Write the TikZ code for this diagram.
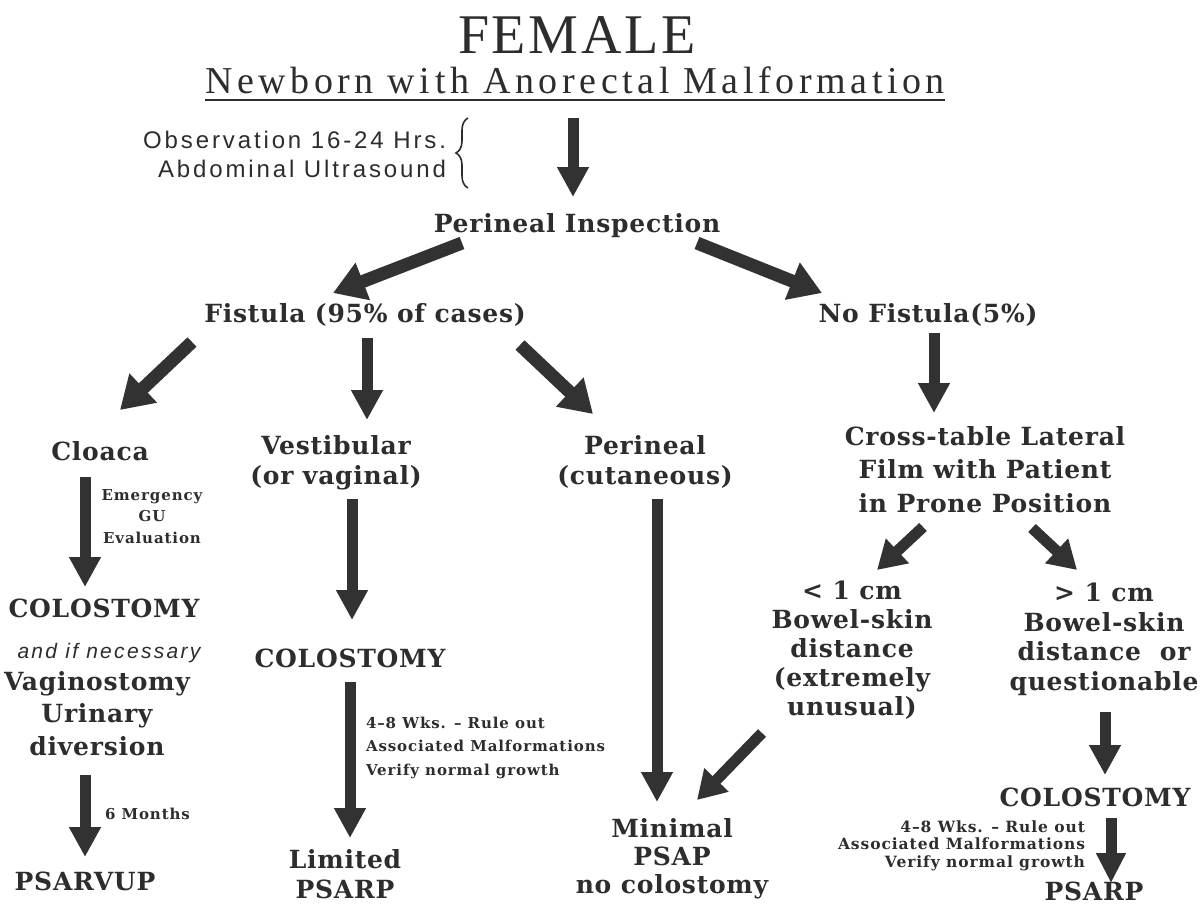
\documentclass[tikz,border=0pt]{standalone}
\usepackage{fontspec}
\usetikzlibrary{arrows.meta,decorations.pathreplacing,calc}
\newfontfamily\ttlfont[LetterSpace=5]{Liberation Serif}
\newfontfamily\subfont[LetterSpace=12]{Liberation Serif}
\newfontfamily\dgmfont[LetterSpace=3]{DejaVu Serif}
\newfontfamily\nfont[LetterSpace=6]{DejaVu Serif}
\newfontfamily\sfnote[LetterSpace=12]{Liberation Sans}
\newfontfamily\sfital[LetterSpace=11]{Liberation Sans}
\definecolor{ink}{RGB}{45,45,45}
\definecolor{arrowc}{RGB}{50,50,50}
\newcommand\fs[2]{\fontsize{#1}{#2}\selectfont}
\begin{document}
\begin{tikzpicture}[x=1pt,y=-1pt,
  every node/.style={inner sep=0pt, outer sep=0pt, text=ink},
  lbl/.style={font=\dgmfont\bfseries\fs{25}{30}, anchor=base, align=center},
  note/.style={font=\nfont\bfseries\fs{15}{22}, anchor=base},
  arr/.style={draw=arrowc, line width=11pt, -{Triangle[width=30pt,length=30pt]}},
  bigarr/.style={draw=arrowc, line width=13pt, -{Triangle[width=38pt,length=32pt]}},
  midarr/.style={draw=arrowc, line width=11pt, -{Triangle[width=32pt,length=28pt]}},
]
\fill[white] (0,0) rectangle (1204,911);
\useasboundingbox (0,0) rectangle (1204,911);

% titles
\node[anchor=base, font=\ttlfont\fs{56}{60}] (title) at (577,53) {FEMALE};
\node[anchor=base, font=\subfont\fs{38}{42}] (sub) at (575,93) {Newborn with Anorectal Malformation};
\draw[ink, line width=2.5pt] ($(sub.base west)+(0,7)$) -- ($(sub.base east)+(0,7)$);

\node[anchor=base east, align=right, font=\sfnote\fs{24}{29}] (obs) at (446,177) {Observation 16-24 Hrs.\\Abdominal Ultrasound};
\draw[decorate, decoration={brace, amplitude=12pt}, line width=1.6pt, ink] (468,188) -- (468,118);

\node[lbl] (insp) at (577,232) {Perineal Inspection};
\node[lbl] (fist) at (365,322) {Fistula (95\% of cases)};
\node[lbl] (nofist) at (928,322) {No Fistula(5\%)};

\node[lbl] (cloaca) at (100,460) {Cloaca};
\node[lbl] (vest) at (336,484) {Vestibular\\(or vaginal)};
\node[lbl] (perin) at (645,484) {Perineal\\(cutaneous)};
\node[lbl, font=\dgmfont\bfseries\fs{25}{33.5}] (cross) at (985,512) {Cross-table Lateral\\Film with Patient\\in Prone Position};

\node[note, align=center, font=\nfont\bfseries\fs{15}{21.5}] (emerg) at (152,543) {Emergency\\GU\\Evaluation};
\node[lbl] (colL) at (104,617) {COLOSTOMY};
\node[anchor=base, font=\sfital\itshape\fs{21}{22}] (ifnec) at (109,658) {and if necessary};
\node[lbl, font=\dgmfont\bfseries\fs{25}{32.5}] (vagin) at (97,755) {Vaginostomy\\Urinary\\diversion};
\node[note, anchor=base west] (sixm) at (105,819) {6 Months};
\node[lbl] (psarvup) at (85,890) {PSARVUP};

\node[lbl] (colM) at (350,667) {COLOSTOMY};
\node[note, anchor=base west, align=left, font=\nfont\bfseries\fs{15}{23.5}] (wksM) at (366,775) {4–8 Wks. – Rule out\\Associated Malformations\\Verify normal growth};
\node[lbl] (limited) at (345,898) {Limited\\PSARP};

\node[lbl, font=\dgmfont\bfseries\fs{25}{28}] (minimal) at (672,893) {Minimal\\PSAP\\no colostomy};

\node[lbl, font=\dgmfont\bfseries\fs{25}{29}] (lt) at (852,715) {< 1 cm\\Bowel-skin\\distance\\(extremely\\unusual)};
\node[lbl, font=\dgmfont\bfseries\fs{25}{29.5}] (gt) at (1104,690) {> 1 cm\\Bowel-skin\\distance~~or\\questionable};
\node[lbl] (colR) at (1095,806) {COLOSTOMY};
\node[note, anchor=base east, align=right, font=\nfont\bfseries\fs{15.5}{17.5}] (wksR) at (1085,867) {4–8 Wks. – Rule out\\Associated Malformations\\Verify normal growth};
\node[lbl] (psarpR) at (1094,900) {PSARP};

% arrow end points
\coordinate (a1s) at (573,118);  \coordinate (a1e) at (573,197);
\coordinate (a2s) at (462,243);  \coordinate (a2e) at (333,293);
\coordinate (a3s) at (697,243);  \coordinate (a3e) at (822,293);
\coordinate (a4s) at (192,342);  \coordinate (a4e) at (120,410);
\coordinate (a5s) at (367,338);  \coordinate (a5e) at (367,420);
\coordinate (a6s) at (520,345);  \coordinate (a6e) at (593,414);
\coordinate (a7s) at (934,333);  \coordinate (a7e) at (934,413);
\coordinate (a8s) at (85,477);   \coordinate (a8e) at (85,587);
\coordinate (a9s) at (352,499);  \coordinate (a9e) at (352,620);
\coordinate (a10s) at (657,499); \coordinate (a10e) at (657,802);
\coordinate (a11s) at (923,527); \coordinate (a11e) at (877,570);
\coordinate (a12s) at (1032,528);\coordinate (a12e) at (1077,570);
\coordinate (a13s) at (85,775);  \coordinate (a13e) at (85,857);
\coordinate (a14s) at (350,682); \coordinate (a14e) at (350,838);
\coordinate (a15s) at (762,733); \coordinate (a15e) at (697,800);
\coordinate (a16s) at (1105,712);\coordinate (a16e) at (1105,775);
\coordinate (a17s) at (1111,818);\coordinate (a17e) at (1111,883);

\draw[arr] (a1s) -- (a1e);
\draw[bigarr] (a2s) -- (a2e);
\draw[bigarr] (a3s) -- (a3e);
\draw[bigarr] (a4s) -- (a4e);
\draw[arr] (a5s) -- (a5e);
\draw[bigarr] (a6s) -- (a6e);
\draw[arr] (a7s) -- (a7e);
\draw[arr] (a8s) -- (a8e);
\draw[arr] (a9s) -- (a9e);
\draw[arr] (a10s) -- (a10e);
\draw[midarr] (a11s) -- (a11e);
\draw[midarr] (a12s) -- (a12e);
\draw[arr] (a13s) -- (a13e);
\draw[arr] (a14s) -- (a14e);
\draw[midarr] (a15s) -- (a15e);
\draw[arr] (a16s) -- (a16e);
\draw[arr, -{Triangle[width=28pt,length=30pt]}] (a17s) -- (a17e);
\end{tikzpicture}
\end{document}
